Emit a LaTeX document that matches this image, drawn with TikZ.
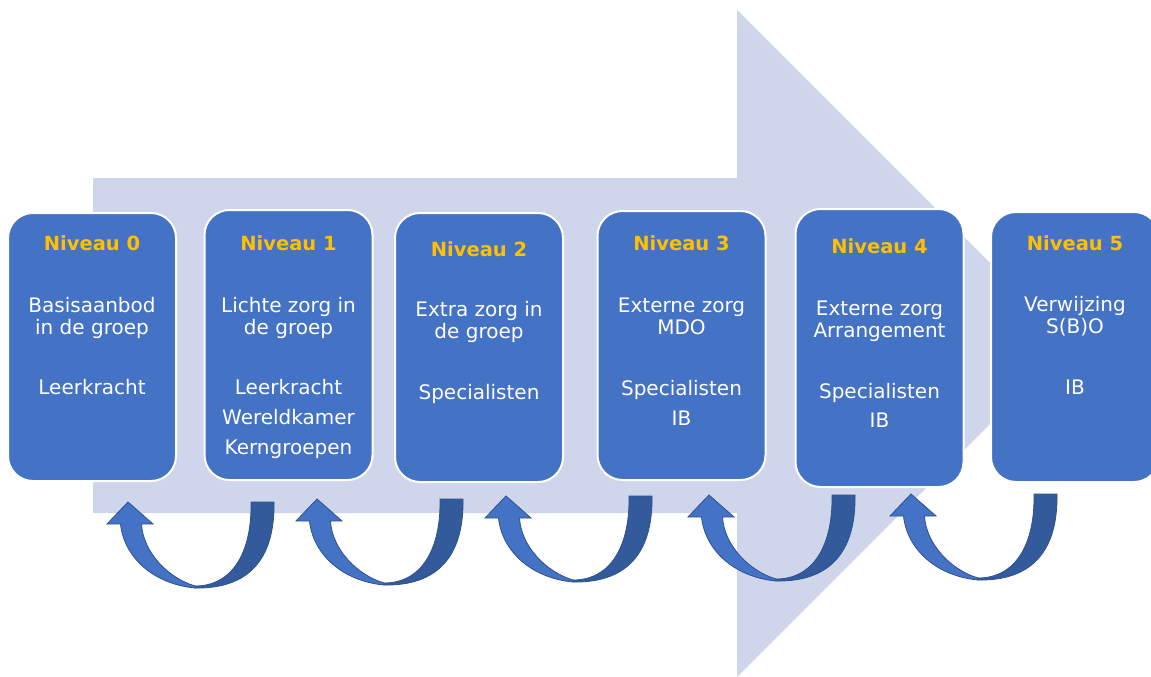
\documentclass[tikz,border=0pt]{standalone}
\usepackage{fontspec}
\setmainfont{DejaVu Sans}
\usetikzlibrary{positioning}

\definecolor{achtergrond}{HTML}{CFD5EA}
\definecolor{boxblauw}{HTML}{4472C4}
\definecolor{titelgoud}{HTML}{FFC000}
\definecolor{pijllicht}{HTML}{4472C4}
\definecolor{pijldonker}{HTML}{335A9A}
\definecolor{pijlrand}{HTML}{2F528F}

\tikzset{
	niveau/.style={draw=white, line width=2pt, fill=boxblauw, rounded corners=25pt, minimum width=168pt},
	niveautekst/.style={text=white, align=center, inner sep=0pt, font=\fontsize{20}{22}\selectfont},
	terugpijl/.pic={
		\draw[fill=pijldonker, draw=pijlrand, line width=0.8pt] (146,0) .. controls (147,58) and (120,87) .. (67,86) -- (67,84) .. controls (106,84) and (124,48) .. (123,0) -- cycle;
		\draw[fill=pijllicht, draw=pijlrand, line width=0.8pt] (-7.5,22) .. controls (-4,55) and (25,82) .. (67,86) -- (67,84) .. controls (40,76) and (15,50) .. (13.5,22) -- (25,22) -- (0,0) -- (-21,22) -- cycle;
	}
}

\newcommand{\titelregel}[1]{\textcolor{titelgoud}{\fontsize{19.5}{22}\selectfont\bfseries #1}}

\begin{document}
\begin{tikzpicture}[x=1pt,y=-1pt]
	\useasboundingbox (0,0) rectangle (1151,677);

	% grote pijl op de achtergrond
	\fill[achtergrond] (93,178) -- (737,178) -- (737,10) -- (1070.5,343.5) -- (737,677) -- (737,513) -- (93,513) -- cycle;

	% niveaus
	\node[niveau, minimum height=268pt] (b0) at (92,347) {};
	\node[niveau, minimum height=270pt] (b1) at (288.5,345) {};
	\node[niveau, minimum height=269pt] (b2) at (479,347.5) {};
	\node[niveau, minimum height=269pt] (b3) at (681.5,345.5) {};
	\node[niveau, minimum height=278pt] (b4) at (879.5,348) {};
	\node[niveau, minimum height=270pt] (b5) at (1075,347) {};

	\node[niveautekst, below=23pt of b0.north] (t0) {\titelregel{Niveau 0}\\[40pt]Basisaanbod\\in de groep\\[38pt]Leerkracht};
	\node[niveautekst, below=26pt of b1.north] (t1) {\titelregel{Niveau 1}\\[40pt]Lichte zorg in\\de groep\\[38pt]Leerkracht\\[8pt]Wereldkamer\\[8pt]Kerngroepen};
	\node[niveautekst, below=29pt of b2.north] (t2) {\titelregel{Niveau 2}\\[38pt]Extra zorg in\\de groep\\[39pt]Specialisten};
	\node[niveautekst, below=25pt of b3.north] (t3) {\titelregel{Niveau 3}\\[40pt]Externe zorg\\MDO\\[39pt]Specialisten\\[8pt]IB};
	\node[niveautekst, below=30pt of b4.north] (t4) {\titelregel{Niveau 4}\\[40pt]Externe zorg\\Arrangement\\[39pt]Specialisten\\[7pt]IB};
	\node[niveautekst, below=24pt of b5.north] (t5) {\titelregel{Niveau 5}\\[39pt]Verwijzing\\S(B)O\\[39pt]IB};

	% terug naar een lager niveau
	\pic at (128,502) {terugpijl};
	\pic at (317,499) {terugpijl};
	\pic at (506,496) {terugpijl};
	\pic at (709,495) {terugpijl};
	\pic at (911,494) {terugpijl};
\end{tikzpicture}
\end{document}
